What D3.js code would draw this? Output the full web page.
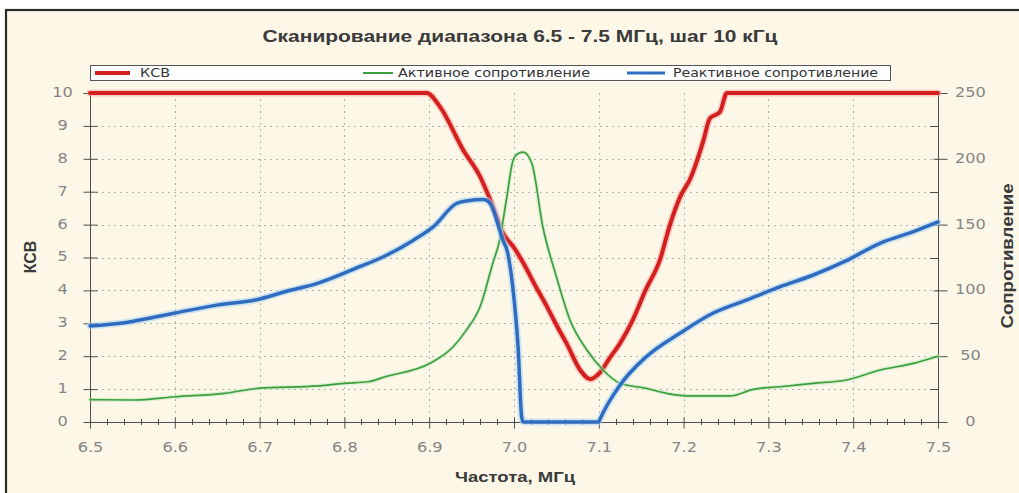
<!DOCTYPE html>
<html><head><meta charset="utf-8">
<script src="https://cdn.jsdelivr.net/npm/d3@7"></script>
<style>html,body{margin:0;padding:0;background:#fff;overflow:hidden}</style>
</head><body>
<svg id="c" width="1019" height="493"></svg>
<script>
// ---- data ----
const titleText = "Сканирование диапазона 6.5 - 7.5 МГц, шаг 10 кГц";
const xTitle = "Частота, МГц";
const yLeftTitle = "КСВ";
const yRightTitle = "Сопротивление";
const seriesNames = ["КСВ", "Активное сопротивление", "Реактивное сопротивление"];
const xTicks = [6.5, 6.6, 6.7, 6.8, 6.9, 7.0, 7.1, 7.2, 7.3, 7.4, 7.5];
const xTickLabels = ["6.5","6.6","6.7","6.8","6.9","7.0","7.1","7.2","7.3","7.4","7.5"];
const leftTicks = [0,1,2,3,4,5,6,7,8,9,10];
const rightTicks = [0,50,100,150,200,250];
const rightMinorTicks = [25,75,125,175,225];

// KSV (left axis)
const ksvFreq = [6.5, 6.897, 6.913, 6.94, 6.96, 6.972, 6.987, 7.0, 7.011, 7.025, 7.039, 7.05, 7.062, 7.078, 7.09, 7.101, 7.113, 7.125, 7.14, 7.155, 7.172, 7.184, 7.196, 7.208, 7.223, 7.231, 7.243, 7.251, 7.5];
const ksvVals = [10, 10, 9.57, 8.27, 7.46, 6.75, 5.74, 5.3, 4.83, 4.15, 3.5, 2.95, 2.39, 1.58, 1.3, 1.49, 1.95, 2.39, 3.1, 4.0, 4.92, 6.0, 6.85, 7.4, 8.52, 9.23, 9.43, 10, 10];

// Active resistance (right axis)
const activeFreq = [6.5, 6.553, 6.6, 6.659, 6.698, 6.769, 6.8, 6.828, 6.848, 6.901, 6.928, 6.944, 6.96, 6.975, 6.983, 6.991, 6.999, 7.005, 7.011, 7.021, 7.034, 7.05, 7.066, 7.086, 7.105, 7.125, 7.156, 7.18, 7.208, 7.255, 7.282, 7.314, 7.353, 7.392, 7.432, 7.471, 7.5];
const activeVals = [17, 16.7, 19.2, 21.8, 25.6, 27.4, 29.4, 30.6, 34.4, 44.6, 57, 70, 87.6, 120.6, 138, 168.7, 199, 204, 205, 196.6, 148.4, 110.4, 77.5, 54.7, 39.5, 29.4, 25.6, 21.8, 19.8, 19.8, 24.8, 26.8, 29.4, 31.9, 39.5, 44.6, 50];

// Reactive resistance (right axis)
const reactFreq = [6.5, 6.541, 6.6, 6.651, 6.695, 6.73, 6.769, 6.818, 6.846, 6.881, 6.905, 6.932, 6.944, 6.964, 6.972, 6.987, 6.992, 6.999, 7.005, 7.009, 7.011, 7.1, 7.101, 7.125, 7.156, 7.196, 7.235, 7.274, 7.314, 7.353, 7.39, 7.432, 7.471, 7.5];
const reactVals = [73, 75.5, 82.8, 89, 92.7, 99, 105.5, 118, 125.6, 138, 148.4, 166, 168, 169, 166, 138, 130, 100, 55, 4, 0, 0, 1.5, 28, 49.6, 67.6, 82.8, 92.7, 102.8, 111.7, 122, 136, 144.6, 152];

// ---- drawing ----
const svg = d3.select("#c");
const L = 90, R = 938, T = 93, B = 422;
const x = d3.scaleLinear().domain([6.5, 7.5]).range([L, R]);
const yL = d3.scaleLinear().domain([0, 10]).range([B, T]);
const yR = d3.scaleLinear().domain([0, 250]).range([B, T]);

function stretch(sel, f) {
  sel.each(function () {
    const w = this.getComputedTextLength();
    d3.select(this).attr("textLength", w * f).attr("lengthAdjust", "spacingAndGlyphs");
  });
}

// background + frame
svg.append("rect").attr("x", 6).attr("y", 10).attr("width", 1040).attr("height", 520)
  .attr("fill", "#fcf7e6").attr("stroke", "#2b2b2b").attr("stroke-width", 2.2);

// title
svg.append("text").attr("x", 520).attr("y", 42).attr("text-anchor", "middle")
  .attr("font-family", "Liberation Sans, Arial").attr("font-weight", "bold").attr("font-size", 16)
  .attr("fill", "#3a3a3a").attr("textLength", 515).attr("lengthAdjust", "spacingAndGlyphs")
  .text(titleText);

// grid
const gridG = svg.append("g").attr("stroke", "#b5b3ad").attr("stroke-width", 1).attr("stroke-dasharray", "2,4");
gridG.selectAll("line.v").data(xTicks.slice(1, -1)).join("line")
  .attr("x1", d => Math.round(x(d)) + 0.5).attr("x2", d => Math.round(x(d)) + 0.5)
  .attr("y1", T).attr("y2", B);
gridG.selectAll("line.h").data(leftTicks.slice(1, -1)).join("line")
  .attr("y1", d => Math.round(yL(d)) + 0.5).attr("y2", d => Math.round(yL(d)) + 0.5)
  .attr("x1", L).attr("x2", R);

const tickFont = "DejaVu Sans, Verdana";
const tickColor = "#858585";
const axisColor = "#4d4d4d";

// left axis
const gL = svg.append("g").attr("transform", `translate(${L + 0.5},0)`)
  .call(d3.axisLeft(yL).tickValues(leftTicks).tickFormat(d3.format("d")).tickSize(7));
gL.select(".domain").remove();
gL.selectAll(".tick line").attr("x1", 7).attr("stroke", axisColor);
gL.selectAll(".tick text").attr("x", -28).attr("y", -1).attr("text-anchor", "middle")
  .attr("font-family", tickFont).attr("font-size", 14).attr("fill", tickColor);
stretch(gL.selectAll(".tick text"), 1.15);

// right axis
const gR = svg.append("g").attr("transform", `translate(${R + 0.5},0)`)
  .call(d3.axisRight(yR).tickValues(rightTicks).tickFormat(d3.format("d")).tickSize(9));
gR.select(".domain").remove();
gR.selectAll(".tick line").attr("x1", -5).attr("stroke", axisColor);
gR.selectAll(".tick text").attr("x", 32).attr("y", -1).attr("text-anchor", "middle")
  .attr("font-family", tickFont).attr("font-size", 14).attr("fill", tickColor);
stretch(gR.selectAll(".tick text"), 1.15);
svg.append("g").selectAll("line").data(rightMinorTicks).join("line")
  .attr("x1", R - 8).attr("x2", R)
  .attr("y1", d => Math.round(yR(d)) + 0.5).attr("y2", d => Math.round(yR(d)) + 0.5)
  .attr("stroke", axisColor);

// bottom axis
const gB = svg.append("g").attr("transform", `translate(0,${B + 0.5})`)
  .call(d3.axisBottom(x).tickValues(xTicks).tickFormat((d, i) => xTickLabels[i]).tickSize(6));
gB.select(".domain").remove();
gB.selectAll(".tick line").attr("y1", -5).attr("stroke", axisColor);
gB.selectAll(".tick text").attr("y", 20)
  .attr("font-family", tickFont).attr("font-size", 14).attr("fill", tickColor);
stretch(gB.selectAll(".tick text"), 1.15);
const minorX = d3.range(0, 51).map(i => 6.5 + i * 0.02).filter((d, i) => i % 5 !== 0);
svg.append("g").selectAll("line").data(minorX).join("line")
  .attr("x1", d => Math.round(x(d)) + 0.5).attr("x2", d => Math.round(x(d)) + 0.5)
  .attr("y1", B - 3).attr("y2", B + 3).attr("stroke", axisColor);

// axis lines
svg.append("line").attr("x1", L + 0.5).attr("x2", L + 0.5).attr("y1", T).attr("y2", B + 6).attr("stroke", axisColor);
svg.append("line").attr("x1", R + 0.5).attr("x2", R + 0.5).attr("y1", T).attr("y2", B + 6).attr("stroke", axisColor);
svg.append("line").attr("x1", L - 6).attr("x2", R + 6).attr("y1", B + 0.5).attr("y2", B + 0.5).attr("stroke", axisColor);

// axis titles
svg.append("text").attr("transform", "translate(36,257) rotate(-90)").attr("text-anchor", "middle")
  .attr("font-family", "Liberation Sans, Arial").attr("font-weight", "bold").attr("font-size", 16)
  .attr("fill", "#3a3a3a").text(yLeftTitle);
svg.append("text").attr("transform", "translate(1013,256) rotate(-90)").attr("text-anchor", "middle")
  .attr("font-family", "Liberation Sans, Arial").attr("font-weight", "bold").attr("font-size", 16)
  .attr("fill", "#3a3a3a").attr("textLength", 145).attr("lengthAdjust", "spacingAndGlyphs").text(yRightTitle);
svg.append("text").attr("x", 515).attr("y", 482).attr("text-anchor", "middle")
  .attr("font-family", "Liberation Sans, Arial").attr("font-weight", "bold").attr("font-size", 15)
  .attr("fill", "#3a3a3a").attr("textLength", 120).attr("lengthAdjust", "spacingAndGlyphs").text(xTitle);

// series
function drawSeries(fr, vals, yS, color, w, halo, hw) {
  const pts = fr.map((f, i) => [f, vals[i]]);
  const line = d3.line().x(d => x(d[0])).y(d => yS(d[1])).curve(d3.curveMonotoneX);
  if (halo) {
    svg.append("path").datum(pts).attr("d", line).attr("fill", "none")
      .attr("stroke", halo).attr("stroke-width", hw).attr("stroke-opacity", 0.55)
      .attr("stroke-linejoin", "round").attr("stroke-linecap", "round");
  }
  svg.append("path").datum(pts).attr("d", line).attr("fill", "none")
    .attr("stroke", color).attr("stroke-width", w)
    .attr("stroke-linejoin", "round").attr("stroke-linecap", "round");
}
drawSeries(ksvFreq, ksvVals, yL, "#d41f1f", 4, "#f4a0a0", 7);
drawSeries(activeFreq, activeVals, yR, "#3c9f3c", 1.7, "#bfe8bf", 4);
drawSeries(reactFreq, reactVals, yR, "#2f6cbf", 3.5, "#a9d5f5", 7);

// legend
const lg = svg.append("g");
lg.append("rect").attr("x", 90.5).attr("y", 65.5).attr("width", 800).attr("height", 15)
  .attr("fill", "#fefefe").attr("stroke", "#555").attr("stroke-width", 1);
const legendItems = [
  { name: seriesNames[0], color: "#d41f1f", w: 4, x1: 95, x2: 130, tx: 140, tl: 30 },
  { name: seriesNames[1], color: "#3c9f3c", w: 2, x1: 363, x2: 393, tx: 398, tl: 192 },
  { name: seriesNames[2], color: "#2f6cbf", w: 3, x1: 627, x2: 665, tx: 673, tl: 205 }
];
legendItems.forEach(it => {
  lg.append("line").attr("x1", it.x1).attr("x2", it.x2).attr("y1", 73).attr("y2", 73)
    .attr("stroke", it.color).attr("stroke-width", it.w);
  lg.append("text").attr("x", it.tx).attr("y", 77).attr("font-family", "DejaVu Sans, Verdana")
    .attr("font-size", 12).attr("fill", "#333").attr("textLength", it.tl)
    .attr("lengthAdjust", "spacingAndGlyphs").text(it.name);
});
</script>
</body></html>
